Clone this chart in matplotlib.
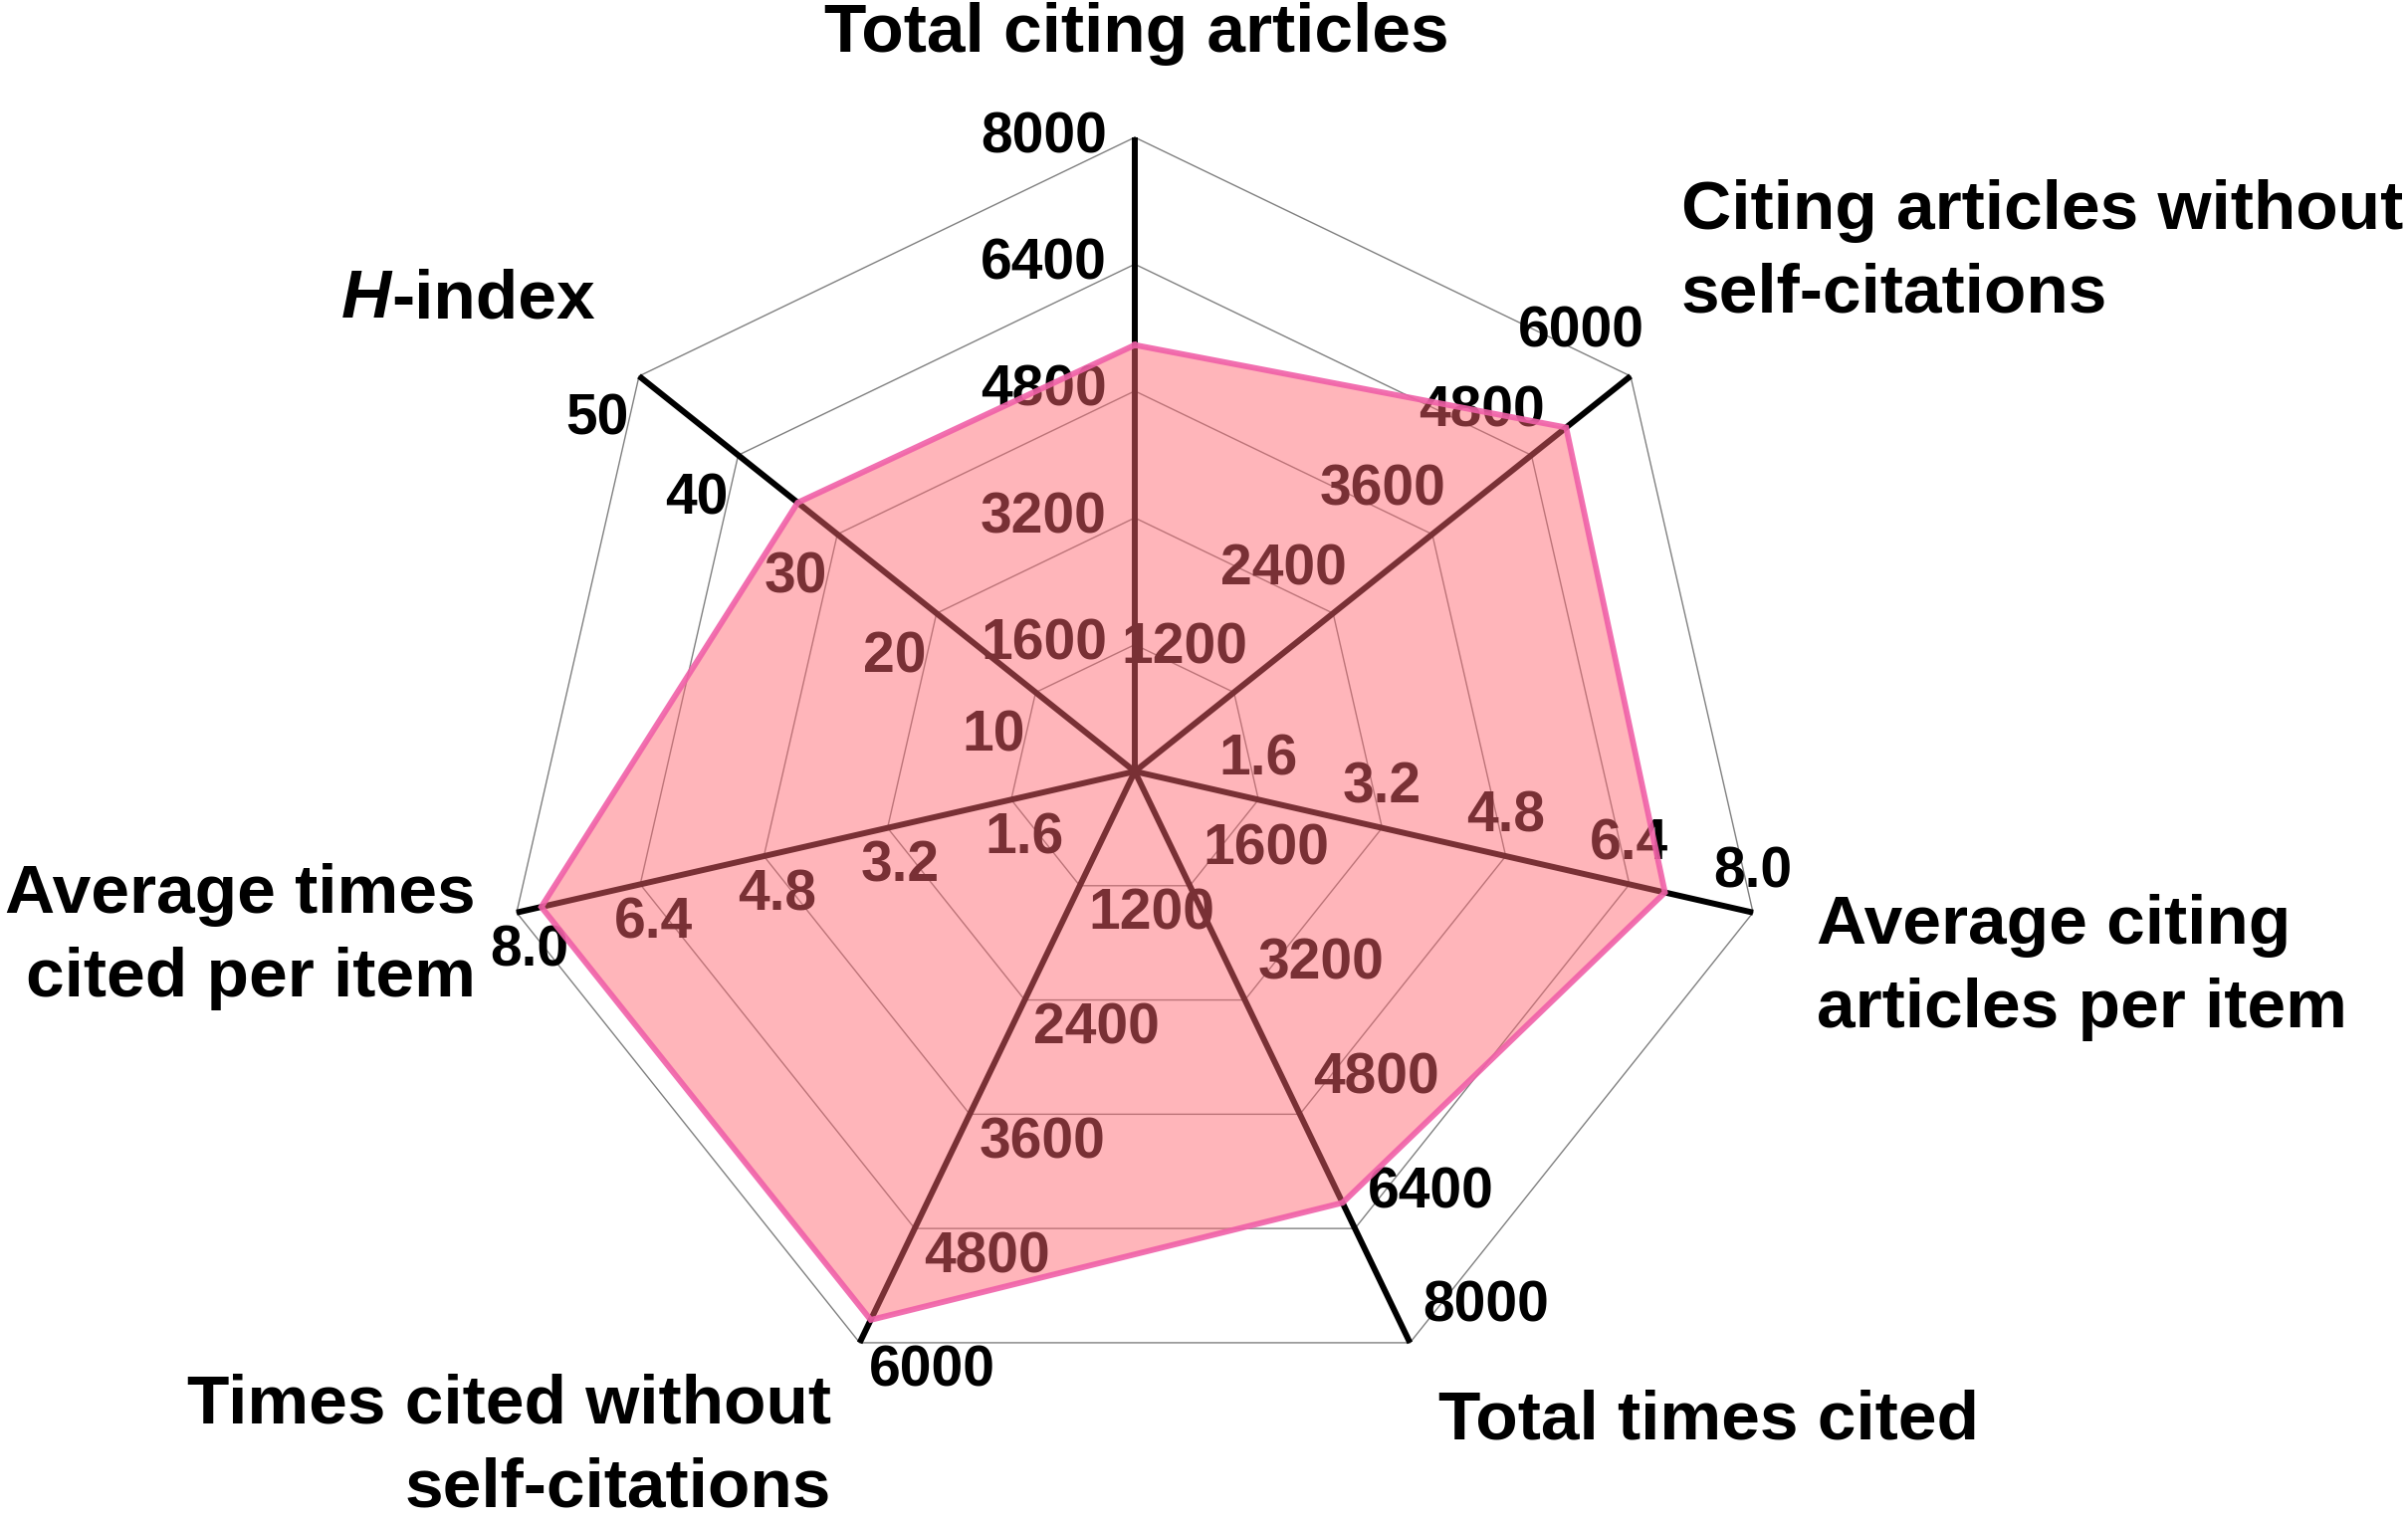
import numpy as np
import matplotlib
matplotlib.use('Agg')
import matplotlib.pyplot as plt

# ==========================================
# 資料
# ==========================================
categories = ['Total citing articles',
              'Citing articles without\nself-citations',
              'Average citing\narticles per item',
              'Total times cited',
              'Times cited without\nself-citations',
              'Average times\ncited per item',
              '-index']
axis_max = [8000, 6000, 8.0, 8000, 6000, 8.0, 50]
values = [5380, 5220, 6.86, 6040, 5760, 7.68, 34]

tick_labels = [
    ['1600', '3200', '4800', '6400', '8000'],
    ['1200', '2400', '3600', '4800', '6000'],
    ['1.6', '3.2', '4.8', '6.4', '8.0'],
    ['1600', '3200', '4800', '6400', '8000'],
    ['1200', '2400', '3600', '4800', '6000'],
    ['1.6', '3.2', '4.8', '6.4', '8.0'],
    ['10', '20', '30', '40', '50'],
]
ring_levels = [0.2, 0.4, 0.6, 0.8, 1.0]

# 每軸刻度文字的偏移 (pixel) 與對齊
tick_offsets = [(-28, 0), (-50, 44), (0, 40), (13, 36), (9, -29), (13, -39), (-42, -44)]
tick_ha = ['right', 'center', 'center', 'left', 'left', 'center', 'center']

# 外圍標籤位置 (pixel, 以左上為原點)
label_pos = [(1142, 34), (1689, 254), (1825, 972), (1445, 1427),
             (835, 1453), (478, 941), (393, 301)]
label_ha = ['center', 'left', 'left', 'left', 'right', 'right', 'left']

FILL_COLOR = (1.0, 0.40, 0.44)
EDGE_COLOR = '#F060A8'

plt.rcParams['font.family'] = ['Liberation Sans', 'DejaVu Sans']
plt.rcParams['font.weight'] = 'bold'

W, H = 2419, 1531
CX, CY, R = 1140, 775, 637

fig = plt.figure(figsize=(W / 100, H / 100), dpi=100)
ax = fig.add_axes([0, 0, 1, 1])
ax.set_xlim(-CX / R, (W - CX) / R)
ax.set_ylim(-(H - CY) / R, CY / R)
ax.set_aspect('equal')
ax.axis('off')

n = len(categories)
angles = np.deg2rad(90 - np.arange(n) * 360.0 / n)
cos_a, sin_a = np.cos(angles), np.sin(angles)

# 網格 (七邊形)
for lv in ring_levels:
    xs = np.append(lv * cos_a, lv * cos_a[0])
    ys = np.append(lv * sin_a, lv * sin_a[0])
    ax.plot(xs, ys, color='#808080', lw=1.0, zorder=1)

# 軸線
for i in range(n):
    ax.plot([0, cos_a[i]], [0, sin_a[i]], color='black', lw=4.3,
            solid_capstyle='butt', zorder=2)

# 刻度文字
for i in range(n):
    for lv, txt in zip(ring_levels, tick_labels[i]):
        ax.annotate(txt, (lv * cos_a[i], lv * sin_a[i]), xytext=tick_offsets[i],
                    textcoords='offset pixels', ha=tick_ha[i], va='center',
                    fontsize=41, fontweight='bold', color='black', zorder=3)

# 資料多邊形
r = np.array(values) / np.array(axis_max)
px = r * cos_a
py = r * sin_a
ax.fill(px, py, color=FILL_COLOR, alpha=0.48, lw=0, zorder=4)
ax.plot(np.append(px, px[0]), np.append(py, py[0]), color=EDGE_COLOR,
        lw=4.2, alpha=0.9, zorder=5, solid_joinstyle='miter')

# 外圍標籤
for i in range(n):
    x, y = label_pos[i]
    fig.text(x / W, 1 - y / H, categories[i], ha=label_ha[i], va='center',
             fontsize=50, fontweight='bold', linespacing=1.4)
# H-index 的斜體 H
x, y = label_pos[6]
fig.text(x / W, 1 - y / H, 'H', ha='right', va='center', fontsize=50,
         fontweight='bold', fontstyle='italic')

fig.savefig('out.png', dpi=100)
